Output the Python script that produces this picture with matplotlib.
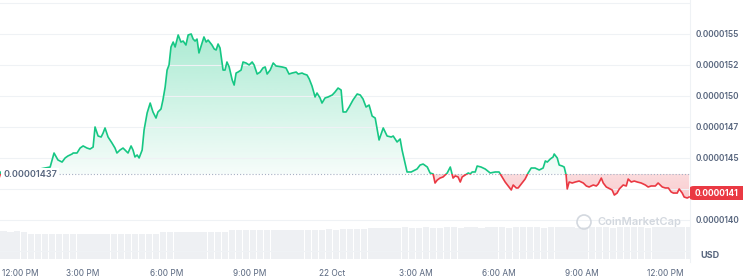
import matplotlib
matplotlib.use("Agg")
import matplotlib.pyplot as plt
import matplotlib.transforms as mtransforms
import numpy as np
from matplotlib.patches import Rectangle, Ellipse, FancyBboxPatch
from matplotlib.path import Path

plt.rcParams["font.family"] = ["Inter", "DejaVu Sans"]

# (hours since 12:00 PM 21 Oct, price in micro-USD)
price_points = [
    (0.00, 14.387), (0.07, 14.338), (0.22, 14.363), (0.54, 14.379), (0.90, 14.395),
    (1.26, 14.403), (1.62, 14.419), (1.81, 14.427), (1.95, 14.540), (2.09, 14.484),
    (2.24, 14.467), (2.35, 14.500), (2.45, 14.516), (2.60, 14.532), (2.64, 14.540),
    (2.78, 14.540), (2.89, 14.580), (3.00, 14.597), (3.14, 14.580), (3.25, 14.572),
    (3.36, 14.588), (3.43, 14.750), (3.54, 14.677), (3.65, 14.669), (3.72, 14.701),
    (3.79, 14.742), (3.90, 14.669), (4.04, 14.621), (4.15, 14.580), (4.22, 14.540),
    (4.33, 14.564), (4.44, 14.580), (4.55, 14.556), (4.62, 14.540), (4.73, 14.597),
    (4.80, 14.564), (4.87, 14.508), (4.95, 14.524), (5.02, 14.500), (5.13, 14.564),
    (5.20, 14.726), (5.31, 14.863), (5.42, 14.943), (5.52, 14.871), (5.63, 14.822),
    (5.70, 14.871), (5.81, 14.895), (5.88, 14.968), (5.96, 15.072), (6.03, 15.209),
    (6.10, 15.250), (6.17, 15.395), (6.25, 15.435), (6.32, 15.395), (6.43, 15.492),
    (6.53, 15.435), (6.61, 15.443), (6.71, 15.411), (6.79, 15.492), (6.90, 15.500),
    (6.97, 15.459), (7.04, 15.443), (7.11, 15.459), (7.18, 15.347), (7.29, 15.427),
    (7.36, 15.476), (7.44, 15.435), (7.51, 15.451), (7.65, 15.411), (7.73, 15.379),
    (7.80, 15.371), (7.87, 15.419), (7.94, 15.387), (8.05, 15.209), (8.12, 15.209),
    (8.19, 15.274), (8.27, 15.234), (8.38, 15.129), (8.45, 15.088), (8.52, 15.185),
    (8.59, 15.193), (8.70, 15.209), (8.77, 15.274), (8.88, 15.266), (8.99, 15.250),
    (9.10, 15.274), (9.17, 15.250), (9.28, 15.177), (9.39, 15.193), (9.49, 15.226),
    (9.57, 15.234), (9.64, 15.177), (9.75, 15.209), (9.86, 15.266), (9.96, 15.242),
    (10.18, 15.234), (10.32, 15.226), (10.43, 15.177), (10.54, 15.185), (10.69, 15.193),
    (10.76, 15.177), (10.90, 15.185), (10.97, 15.177), (11.08, 15.169), (11.16, 15.137),
    (11.26, 15.080), (11.37, 14.992), (11.44, 15.024), (11.55, 14.984), (11.62, 14.943),
    (11.73, 14.984), (11.84, 14.992), (11.99, 15.008), (12.09, 15.032), (12.20, 15.064),
    (12.31, 15.048), (12.38, 14.871), (12.49, 14.871), (12.60, 14.911), (12.74, 14.968),
    (12.89, 15.016), (13.00, 15.008), (13.10, 14.976), (13.21, 14.911), (13.32, 14.927),
    (13.43, 14.838), (13.54, 14.822), (13.68, 14.645), (13.83, 14.742), (13.97, 14.677),
    (14.12, 14.669), (14.19, 14.677), (14.33, 14.629), (14.44, 14.653), (14.51, 14.564),
    (14.69, 14.387), (14.84, 14.387), (14.91, 14.395), (15.05, 14.411), (15.16, 14.443),
    (15.27, 14.451), (15.42, 14.427), (15.52, 14.379), (15.63, 14.371), (15.70, 14.298),
    (15.78, 14.322), (15.88, 14.338), (15.99, 14.347), (16.14, 14.379), (16.25, 14.427),
    (16.35, 14.338), (16.43, 14.355), (16.53, 14.347), (16.61, 14.306), (16.68, 14.347),
    (16.79, 14.363), (16.90, 14.379), (16.97, 14.371), (17.04, 14.387), (17.15, 14.387),
    (17.22, 14.435), (17.36, 14.427), (17.51, 14.411), (17.69, 14.379), (17.87, 14.387),
    (18.01, 14.387), (18.12, 14.347), (18.23, 14.306), (18.34, 14.274), (18.45, 14.242),
    (18.52, 14.282), (18.63, 14.258), (18.70, 14.258), (18.84, 14.298), (18.95, 14.330),
    (19.06, 14.379), (19.17, 14.419), (19.31, 14.419), (19.46, 14.403), (19.60, 14.419),
    (19.68, 14.476), (19.75, 14.467), (19.86, 14.492), (19.96, 14.508), (20.00, 14.532),
    (20.11, 14.500), (20.18, 14.443), (20.29, 14.435), (20.36, 14.427), (20.43, 14.363),
    (20.47, 14.250), (20.54, 14.306), (20.65, 14.298), (20.76, 14.306), (20.90, 14.314),
    (21.05, 14.298), (21.16, 14.274), (21.26, 14.266), (21.41, 14.282), (21.52, 14.274),
    (21.59, 14.290), (21.70, 14.338), (21.77, 14.298), (21.88, 14.266), (21.95, 14.258),
    (22.09, 14.242), (22.17, 14.201), (22.27, 14.217), (22.35, 14.250), (22.49, 14.282),
    (22.60, 14.274), (22.67, 14.330), (22.78, 14.306), (22.89, 14.314), (23.00, 14.306),
    (23.14, 14.298), (23.29, 14.282), (23.39, 14.266), (23.50, 14.274), (23.65, 14.274),
    (23.75, 14.298), (23.90, 14.266), (24.01, 14.258), (24.12, 14.258), (24.22, 14.226),
    (24.30, 14.217), (24.44, 14.217), (24.51, 14.250), (24.62, 14.217), (24.69, 14.185),
    (24.80, 14.177), (24.87, 14.185),
]
open_price = 14.37      # 0.00001437
last_label = "0.0000141"

# relative volume, 15 minute bars
volume = [
    0.81, 0.80, 0.81, 0.80, 0.75, 0.74, 0.74, 0.73, 0.74, 0.74, 0.73, 0.74,
    0.74, 0.75, 0.74, 0.74, 0.73, 0.74, 0.74, 0.75, 0.74, 0.74, 0.75, 0.78,
    0.79, 0.79, 0.80, 0.79, 0.79, 0.80, 0.79, 0.80, 0.80, 0.84, 0.85, 0.85,
    0.86, 0.85, 0.85, 0.86, 0.86, 0.85, 0.86, 0.86, 0.85, 0.86, 0.86, 0.87,
    0.86, 0.87, 0.87, 0.88, 0.88, 0.91, 0.92, 0.92, 0.91, 0.92, 0.93, 0.92,
    0.92, 0.93, 0.92, 0.92, 0.93, 0.93, 0.92, 0.93, 0.93, 0.92, 0.93, 0.94,
    0.93, 0.92, 0.93, 0.93, 0.94, 0.93, 0.92, 0.93, 0.94, 0.93, 0.93, 0.92,
    0.93, 0.94, 0.93, 0.93, 0.92, 0.93, 0.93, 0.94, 0.93, 0.92, 0.93, 0.93,
    0.94, 0.93, 0.93, 0.94,
]

tick_hours = [0, 3, 6, 9, 12, 15, 18, 21, 24]
tick_labels = ["12:00 PM", "3:00 PM", "6:00 PM", "9:00 PM", "22 Oct",
               "3:00 AM", "6:00 AM", "9:00 AM", "12:00 PM"]
grid_prices = [13.75, 14.0, 14.25, 14.5, 14.75, 15.0, 15.25, 15.5, 15.75]
grid_labels = ["", "0.0000140", "", "0.0000145", "0.0000147",
               "0.0000150", "0.0000152", "0.0000155", ""]

GREEN = "#16c784"
RED = "#ea3943"
GREY = "#58667e"
GRID = "#eff2f5"

hours, price = (np.array(v) for v in zip(*price_points))

W, H = 743, 277
fig = plt.figure(figsize=(W / 100, H / 100), dpi=100)
x_end = 690 / 27.71

# volume strip
vax = fig.add_axes([0, 1 - 259 / H, 690 / W, 34 / H])
vx = (np.arange(len(volume)) + 0.5) * 0.25
vax.bar(vx, volume, width=0.25 * 0.9, color="#eef0f3", linewidth=0)
vax.set_xlim(0, x_end)
vax.set_ylim(0, 1)
vax.axis("off")

ax = fig.add_axes([0, 1 - 262 / H, 690 / W, 262 / H])
ax.set_facecolor("none")
ax.set_xlim(0, x_end)
ax.set_ylim(13.661, 15.774)
for s in ("left", "top", "bottom"):
    ax.spines[s].set_visible(False)
ax.spines["right"].set_color(GRID)
ax.spines["right"].set_linewidth(0.8)

ax.set_yticks(grid_prices, grid_labels)
ax.yaxis.tick_right()
ax.tick_params(axis="y", length=0, pad=4, labelsize=6, labelcolor=GREY)
for lab in ax.get_yticklabels():
    lab.set_fontweight("semibold")
ax.grid(axis="y", color=GRID, linewidth=0.8)
ax.set_xticks(tick_hours, tick_labels)
ax.tick_params(axis="x", length=0, pad=5, labelsize=6, labelcolor=GREY)
first = ax.get_xticklabels()[0]
first.set_horizontalalignment("left")
first.set_transform(first.get_transform() +
                    mtransforms.ScaledTranslation(2 / 100, 0, fig.dpi_scale_trans))

# gradient fills clipped to the area between price and open price
up = ax.fill_between(hours, price, open_price, where=price >= open_price,
                     interpolate=True, facecolor="none", linewidth=0)
down = ax.fill_between(hours, price, open_price, where=price <= open_price,
                       interpolate=True, facecolor="none", linewidth=0)
top = price.max()
g = np.linspace(0, 1, 256).reshape(-1, 1)
green_img = np.zeros((256, 1, 4))
green_img[..., :3] = matplotlib.colors.to_rgb(GREEN)
green_img[..., 3] = 0.04 + 0.32 * g[:, 0:1]
im = ax.imshow(green_img, extent=(0, x_end, open_price, top), origin="lower",
               aspect="auto", zorder=1, interpolation="bilinear")
im.set_clip_path(Path.make_compound_path(*up.get_paths()), transform=ax.transData)
red_img = np.zeros((256, 1, 4))
red_img[..., :3] = matplotlib.colors.to_rgb(RED)
red_img[..., 3] = 0.26 - 0.08 * g[:, 0:1]
im2 = ax.imshow(red_img, extent=(0, x_end, price.min(), open_price), origin="lower",
                aspect="auto", zorder=1, interpolation="bilinear")
im2.set_clip_path(Path.make_compound_path(*down.get_paths()), transform=ax.transData)

# price line, green above the open price and red below
above = Rectangle((0, open_price), 40, 10, transform=ax.transData)
below = Rectangle((0, open_price - 10), 40, 10, transform=ax.transData)
l1, = ax.plot(hours, price, color=GREEN, linewidth=1.2, zorder=3)
l1.set_clip_path(above)
l2, = ax.plot(hours, price, color=RED, linewidth=1.2, zorder=3)
l2.set_clip_path(below)

ax.plot([56 / 27.71, x_end], [open_price, open_price], color="#a6b0c3",
        linewidth=0.8, linestyle=(0, (1, 1.8)), zorder=2)
ax.text(0.12, open_price, "0.00001437", fontsize=6.5, fontweight="semibold",
        color=GREY, va="center", ha="left", zorder=4,
        bbox=dict(facecolor="white", edgecolor="none", pad=1.5))

# current price badge
fig.patches.append(FancyBboxPatch((690 / W, 1 - 200 / H), 60 / W, 14 / H,
                                  boxstyle="round,pad=0,rounding_size=0.006",
                                  transform=fig.transFigure, facecolor=RED,
                                  edgecolor="none"))
fig.text(695 / W, 1 - 193 / H, last_label, color="white", fontsize=6,
         fontweight="bold", va="center", ha="left")
fig.text(700 / W, 1 - 255 / H, "USD", color=GREY, fontsize=6.5,
         fontweight="bold", va="center", ha="left")

# watermark
fig.patches.append(Ellipse((584 / W, 1 - 222 / H), 14 / W, 14 / H,
                           transform=fig.transFigure, facecolor="none",
                           edgecolor="#d3d8df", linewidth=1.2))
fig.text(597 / W, 1 - 222 / H, "CoinMarketCap", color="#d3d8df", fontsize=8,
         fontweight="semibold", va="center", ha="left")

fig.savefig("out.png", dpi=100)
